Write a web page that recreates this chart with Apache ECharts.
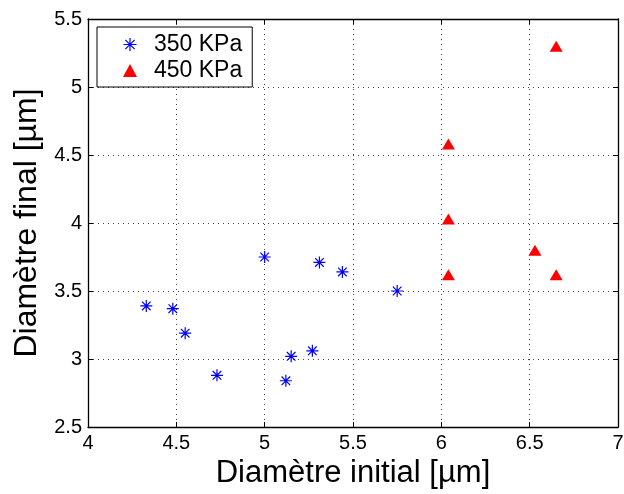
<!DOCTYPE html>
<html>
<head>
<meta charset="utf-8">
<script src="https://cdn.jsdelivr.net/npm/echarts@6/dist/echarts.min.js"></script>
<style>
  html, body { margin: 0; padding: 0; background: #fff; }
  #chart { width: 624px; height: 494px; }
</style>
</head>
<body>
<div id="chart"></div>
<script>
// Initial vs final diameter, two pressure levels
const seriesNames = ['350 KPa', '450 KPa'];
const initial350 = [4.33, 4.48, 4.55, 4.73, 5.00, 5.12, 5.15, 5.27, 5.31, 5.44, 5.75];
const final350   = [3.39, 3.37, 3.19, 2.88, 3.75, 2.84, 3.02, 3.06, 3.71, 3.64, 3.50];
const initial450 = [6.04, 6.04, 6.04, 6.53, 6.65, 6.65];
const final450   = [4.58, 4.03, 3.62, 3.80, 3.62, 5.30];
const xTicks = [4, 4.5, 5, 5.5, 6, 6.5, 7];
const yTicks = [2.5, 3, 3.5, 4, 4.5, 5, 5.5];

const asterisk = 'path://M0,-6L0,6M-6,0L6,0M-4.3,-4.3L4.3,4.3M-4.3,4.3L4.3,-4.3';
const pairs = (xs, ys) => xs.map((x, i) => [x, ys[i]]);

const tickFont = { fontFamily: 'Liberation Sans', fontSize: 20, color: '#000' };
const gridLine = { show: true, lineStyle: { color: '#444', type: [1, 4], width: 1 } };

const chart = echarts.init(document.getElementById('chart'), null, { renderer: 'canvas' });
chart.setOption({
  animation: false,
  backgroundColor: '#fff',
  grid: { left: 88, right: 6, top: 19, bottom: 67, containLabel: false, outerBoundsMode: 'none' },
  legend: {
    orient: 'vertical',
    left: 97, top: 27,
    backgroundColor: '#fff',
    borderColor: '#000', borderWidth: 1,
    padding: [6, 10, 5, 24],
    itemGap: 3,
    itemWidth: 14, itemHeight: 13,
    textStyle: { fontFamily: 'Liberation Sans', fontSize: 23, color: '#000', padding: [0, 0, 0, 12] },
    data: [
      { name: seriesNames[0], icon: asterisk, itemStyle: { color: 'none', borderColor: '#0000ff', borderWidth: 1.2, opacity: 1 } },
      { name: seriesNames[1], icon: 'triangle', itemStyle: { color: '#ff0000', opacity: 1 } }
    ]
  },
  xAxis: [{
    type: 'value', min: xTicks[0], max: xTicks[xTicks.length - 1], interval: 0.5,
    name: 'Diamètre initial [µm]', nameLocation: 'middle', nameGap: 30,
    nameTextStyle: { fontFamily: 'Liberation Sans', fontSize: 31, color: '#000' },
    axisLine: { show: true, onZero: false, lineStyle: { color: '#000', width: 1.3 } },
    axisTick: { show: true, inside: true, length: 5, lineStyle: { color: '#000' } },
    axisLabel: { ...tickFont, margin: 6 },
    splitLine: gridLine
  }, {
    type: 'value', position: 'top', min: xTicks[0], max: xTicks[xTicks.length - 1], interval: 0.5,
    axisLine: { show: true, onZero: false, lineStyle: { color: '#000', width: 1.3 } },
    axisTick: { show: true, inside: true, length: 5, lineStyle: { color: '#000' } },
    axisLabel: { show: false }, splitLine: { show: false }
  }],
  yAxis: [{
    type: 'value', min: yTicks[0], max: yTicks[yTicks.length - 1], interval: 0.5,
    name: 'Diamètre final [µm]', nameLocation: 'middle', nameGap: 45,
    nameTextStyle: { fontFamily: 'Liberation Sans', fontSize: 32, color: '#000' },
    axisLine: { show: true, onZero: false, lineStyle: { color: '#000', width: 1.3 } },
    axisTick: { show: true, inside: true, length: 5, lineStyle: { color: '#000' } },
    axisLabel: { ...tickFont, margin: 6 },
    splitLine: gridLine
  }, {
    type: 'value', position: 'right', min: yTicks[0], max: yTicks[yTicks.length - 1], interval: 0.5,
    axisLine: { show: true, onZero: false, lineStyle: { color: '#000', width: 1.3 } },
    axisTick: { show: true, inside: true, length: 5, lineStyle: { color: '#000' } },
    axisLabel: { show: false }, splitLine: { show: false }
  }],
  series: [{
    name: seriesNames[0], type: 'scatter',
    symbol: asterisk, symbolSize: 12,
    itemStyle: { color: 'none', borderColor: '#0000ff', borderWidth: 1.2, opacity: 1 },
    data: pairs(initial350, final350)
  }, {
    name: seriesNames[1], type: 'scatter',
    symbol: 'triangle', symbolSize: [13, 11],
    itemStyle: { color: '#ff0000', opacity: 1 },
    data: pairs(initial450, final450)
  }]
});
</script>
</body>
</html>
